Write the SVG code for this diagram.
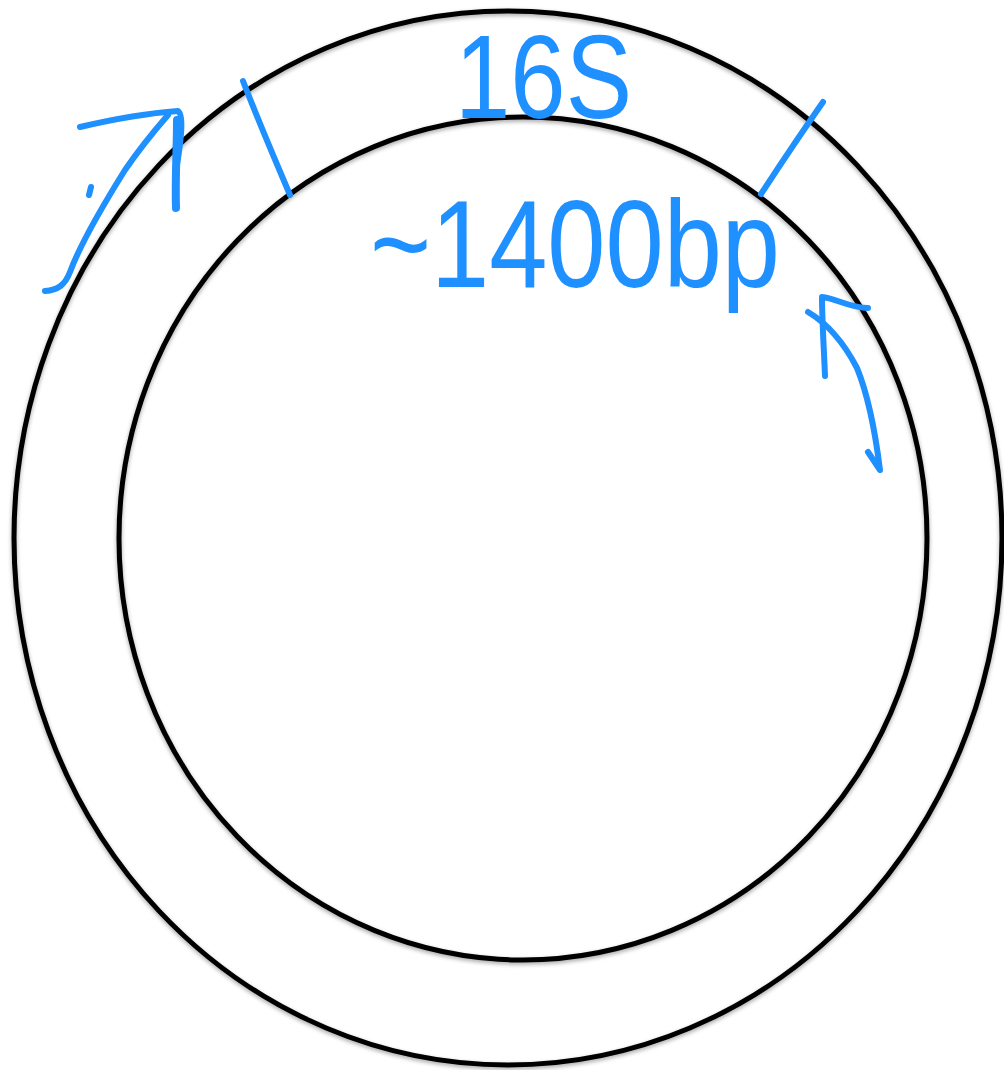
<svg xmlns="http://www.w3.org/2000/svg" width="1004" height="1070" viewBox="0 0 1004 1070">
  <style>
    .ring { fill: none; stroke: #000; stroke-width: 5; }
    .ink { fill: none; stroke: #1E90FF; stroke-width: 6; stroke-linecap: round; stroke-linejoin: round; }
    .bold { stroke-width: 8; }
    .label { fill: #1E90FF; font-family: "Liberation Sans", Arial, sans-serif; }
  </style>
  <defs>
    <filter id="shadow" x="-5%" y="-5%" width="110%" height="110%">
      <feDropShadow dx="0" dy="2" stdDeviation="2" flood-color="#000" flood-opacity="0.35"/>
    </filter>
  </defs>
  <rect width="1004" height="1070" fill="#fff"/>
  <g id="plasmid" filter="url(#shadow)">
    <ellipse id="outer-ring" class="ring" cx="508" cy="538" rx="494" ry="527"/>
    <ellipse id="inner-ring" class="ring" cx="523" cy="538.5" rx="404" ry="421.5"/>
  </g>
  <g id="segment-16S">
    <path class="ink" d="M243,81 C258,120 275,160 290,195"/>
    <path class="ink" d="M823,102 C800,135 780,165 761,194"/>
    <text class="label" x="455" y="118" font-size="118" textLength="177" lengthAdjust="spacingAndGlyphs">16S</text>
  </g>
  <g id="length-label">
    <text class="label" x="370" y="287" font-size="125" textLength="410" lengthAdjust="spacingAndGlyphs">~1400bp</text>
  </g>
  <g id="connectors">
    <path class="ink" d="M45,291 C58,290 65,285 70,272 C80,245 100,210 125,170 C140,148 155,130 168,115"/>
    <path class="ink" d="M80,127 C110,120 150,113 178,111 C184,115 181,140 177,165"/>
    <path class="ink bold" d="M177,120 C177,150 175,180 176,208"/>
    <path class="ink" d="M91,187 L89,195"/>
    <path class="ink" d="M868,308 C850,308 835,298 822,297 C822,320 824,350 825,376"/>
    <path class="ink" d="M808,312 C830,325 845,345 857,368 C868,395 875,430 880,470 L868,452"/>
  </g>
</svg>
